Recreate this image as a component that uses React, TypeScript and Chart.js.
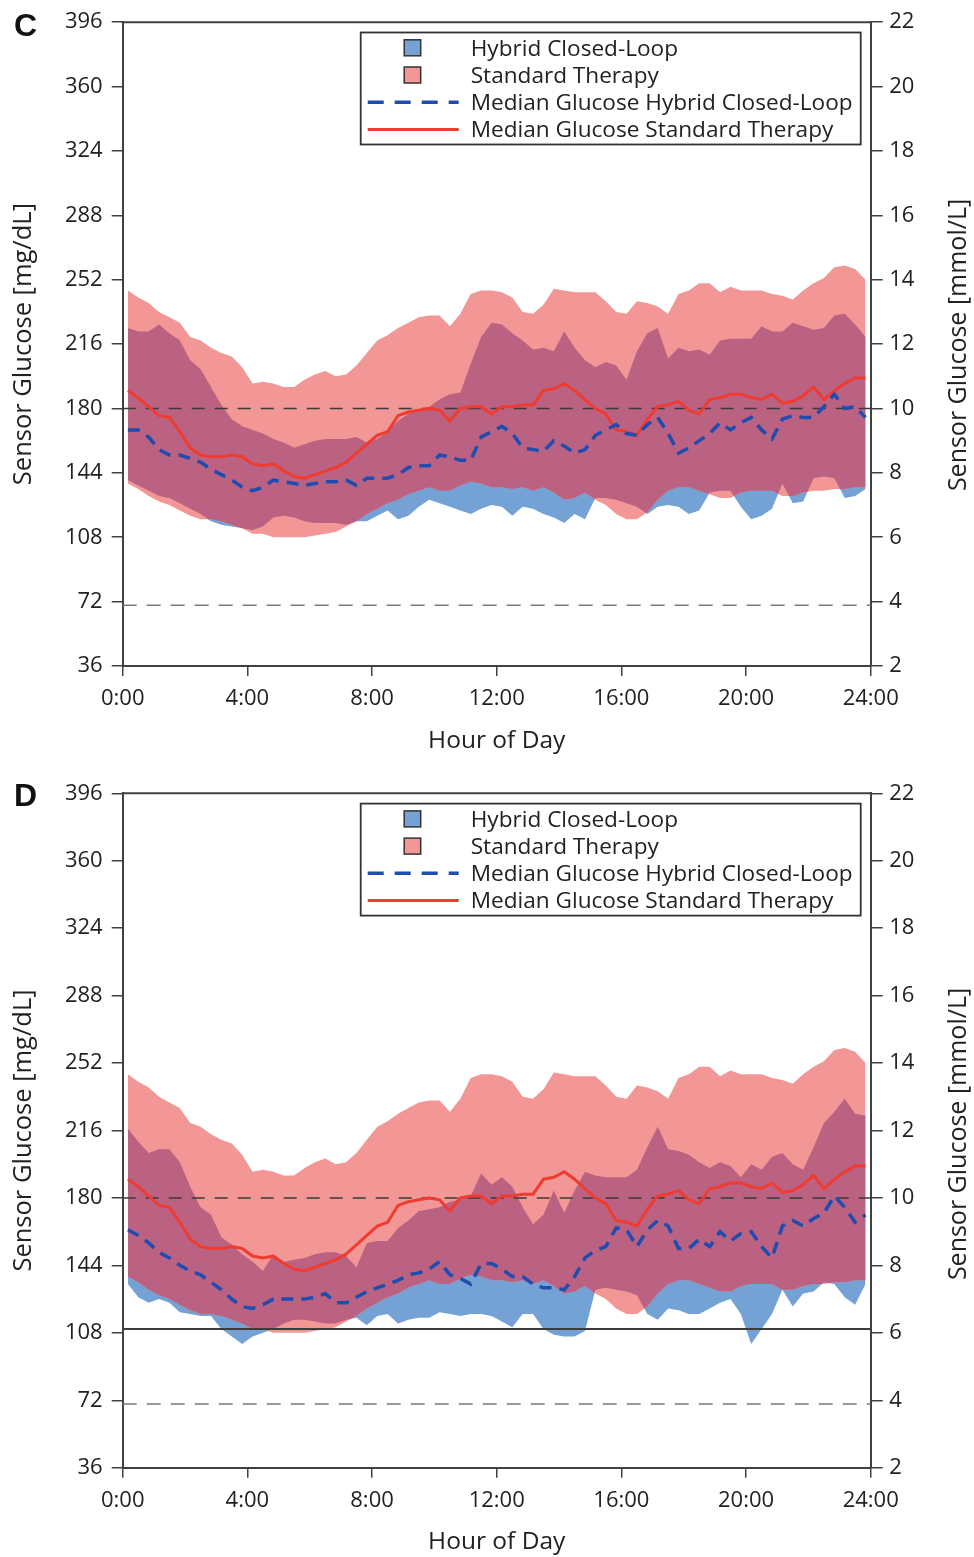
import React, { useEffect, useRef } from "react";
import { Chart, registerables } from "chart.js";

Chart.register(...registerables);
Chart.defaults.font.family = '"Open Sans", "Noto Sans", sans-serif';

// ---------- data ----------
const timeBins = [
  "0:10","0:30","0:50","1:10","1:30","1:50","2:10","2:30","2:50","3:10","3:30","3:50",
  "4:10","4:30","4:50","5:10","5:30","5:50","6:10","6:30","6:50","7:10","7:30","7:50",
  "8:10","8:30","8:50","9:10","9:30","9:50","10:10","10:30","10:50","11:10","11:30","11:50",
  "12:10","12:30","12:50","13:10","13:30","13:50","14:10","14:30","14:50","15:10","15:30","15:50",
  "16:10","16:30","16:50","17:10","17:30","17:50","18:10","18:30","18:50","19:10","19:30","19:50",
  "20:10","20:30","20:50","21:10","21:30","21:50","22:10","22:30","22:50","23:10","23:30","23:50",
];
const hours = timeBins.map((t) => {
  const [h, m] = t.split(":").map(Number);
  return h + m / 60;
});

const mgTicks = [36, 72, 108, 144, 180, 216, 252, 288, 324, 360, 396];
const mmolTicks = [2, 4, 6, 8, 10, 12, 14, 16, 18, 20, 22];
const hourTicks = [0, 4, 8, 12, 16, 20, 24];
const hourLabels = ["0:00", "4:00", "8:00", "12:00", "16:00", "20:00", "24:00"];

const legendLabels = [
  "Hybrid Closed-Loop",
  "Standard Therapy",
  "Median Glucose Hybrid Closed-Loop",
  "Median Glucose Standard Therapy",
];

// Standard therapy (same in both panels)
const stHigh = [246,242,239,234,231,228,220,218,214,211,209,203,194,195,194,192,192,196,199,201,198,199,204,211,218,221,225,228,231,232,232,226,233,244,246,246,245,242,234,233,238,247,246,245,245,245,240,234,233,240,239,237,233,244,246,250,250,245,248,246,246,246,244,243,241,246,250,253,259,260,258,252];
const stLow = [138,135,131,128,126,123,120,118,118,117,115,113,110,110,108,108,108,108,109,110,111,114,117,121,124,127,129,132,134,136,134,134,137,139,138,136,136,135,136,134,136,133,129,130,133,129,126,121,118,118,122,129,134,136,136,134,132,130,130,133,134,134,134,131,131,133,134,134,135,135,136,136];
const stMedian = [190,186,181,176,175,167,158,154,153,153,154,153,149,148,149,145,142,141,143,145,147,150,155,160,165,167,176,178,179,180,179,173,180,181,181,177,181,181,182,182,190,191,194,190,185,180,177,168,167,165,174,181,182,184,179,177,185,186,188,188,186,185,188,183,184,187,192,185,190,194,197,197];

// Hybrid closed-loop, panel C
const hclHighC = [225,223,223,227,222,218,207,202,192,182,174,170,168,166,163,161,158,160,162,163,163,163,164,161,163,167,173,177,179,181,185,188,189,205,220,228,227,222,218,213,214,212,223,214,207,203,206,204,196,212,222,225,208,214,212,213,210,218,219,219,219,226,223,223,228,226,224,225,232,233,227,220];
const hclLowC = [140,137,134,131,130,127,124,121,117,115,114,113,112,114,119,120,119,117,116,116,116,115,117,117,120,123,118,120,125,129,127,125,123,121,124,126,125,120,125,124,121,119,116,121,118,130,130,129,127,125,121,125,126,125,121,123,133,134,134,125,118,120,124,138,127,128,141,142,141,130,131,135];
const hclMedianC = [168,168,164,157,154,154,152,150,146,143,140,136,134,136,140,139,138,137,138,139,139,140,137,141,141,141,143,147,148,148,154,153,151,151,164,167,170,166,158,157,156,162,159,155,157,165,168,171,166,165,171,175,166,155,158,162,166,172,168,172,175,168,163,174,176,175,175,181,188,180,181,175];

// Hybrid closed-loop, panel D
const hclHighD = [217,210,204,206,206,199,186,175,171,159,155,150,146,141,150,146,147,148,150,151,151,149,143,156,157,157,164,168,173,174,175,178,179,181,193,187,191,186,175,166,171,184,172,184,194,192,191,191,191,195,207,218,206,205,203,199,196,199,197,191,198,195,202,204,198,195,207,220,226,233,225,224];
const hclLowD = [134,127,124,126,124,119,118,117,117,110,106,102,106,108,110,113,115,115,114,113,113,115,116,112,117,118,113,115,116,116,119,118,117,118,118,117,114,111,118,118,110,107,106,106,109,131,132,131,130,128,118,115,121,120,118,118,121,124,126,118,102,110,118,131,122,129,130,135,134,127,123,134];
const hclMedianD = [163,160,156,151,148,144,141,139,135,131,126,122,121,123,126,126,126,126,127,129,124,124,127,130,132,134,136,139,140,142,146,139,137,134,145,145,142,138,138,134,132,132,131,138,148,152,154,164,163,154,163,168,165,153,153,158,154,162,157,161,162,154,148,165,168,165,169,172,181,175,167,171];

const refValuesDashed = [180, 70];
const refValuesSolidD = [110];

// ---------- styles ----------
const PINK = "#F29696";
const BLUE = "#74A2D4";
const PURPLE = "#BB6283";
const RED = "#EF3B30";
const NAVY = "#1F4DAF";
const AXIS = "#404040";
const TEXT = "#222222";
const WIDTH = 974;
const PLOT_LEFT = 122.7;
const PLOT_RIGHT = 870.7;

type RefLine = { value: number; color: string; dash: number[]; width: number };

type PanelProps = {
  letter: string;
  letterY: number;
  height: number;
  plotTop: number;
  plotBottom: number;
  rightTitleY: number;
  hclLow: number[];
  hclHigh: number[];
  hclMedian: number[];
  refLines: RefLine[];
};

function Panel(props: PanelProps) {
  const ref = useRef<HTMLCanvasElement>(null);

  useEffect(() => {
    const canvas = ref.current!;
    const pts = (arr: number[]) => hours.map((h, k) => ({ x: h, y: arr[k] }));
    const hidden = {
      borderColor: "rgba(0,0,0,0)",
      borderWidth: 0,
      pointRadius: 0,
    };

    const decor = {
      id: "panelDecor",
      afterDatasetDraw(chart: any, args: any) {
        if (args.index !== 3) return;
        const ctx = chart.ctx as CanvasRenderingContext2D;
        const a = chart.chartArea;
        const get = (i: number) =>
          chart.getDatasetMeta(i).data.map((p: any) => ({ x: p.x, y: p.y }));
        const hl = get(0), hh = get(1), sl = get(2), sh = get(3);
        const poly = (hi: any[], lo: any[]) => {
          ctx.beginPath();
          hi.forEach((p, k) => (k ? ctx.lineTo(p.x, p.y) : ctx.moveTo(p.x, p.y)));
          for (let k = lo.length - 1; k >= 0; k--) ctx.lineTo(lo[k].x, lo[k].y);
          ctx.closePath();
        };
        ctx.save();
        ctx.beginPath();
        ctx.rect(a.left, a.top, a.right - a.left, a.bottom - a.top);
        ctx.clip();
        poly(hh, hl);
        ctx.clip();
        poly(sh, sl);
        ctx.fillStyle = PURPLE;
        ctx.fill();
        ctx.restore();

        // reference lines
        const ys = chart.scales.y;
        ctx.save();
        props.refLines.forEach((r) => {
          const y = ys.getPixelForValue(r.value);
          ctx.beginPath();
          ctx.setLineDash(r.dash);
          ctx.strokeStyle = r.color;
          ctx.lineWidth = r.width;
          ctx.moveTo(a.left, y);
          ctx.lineTo(a.right, y);
          ctx.stroke();
        });
        ctx.restore();
      },
      afterDraw(chart: any) {
        const ctx = chart.ctx as CanvasRenderingContext2D;
        const a = chart.chartArea;
        ctx.save();
        // top frame line
        ctx.strokeStyle = AXIS;
        ctx.lineWidth = 2;
        ctx.beginPath();
        ctx.moveTo(a.left - 1, a.top);
        ctx.lineTo(a.right + 1, a.top);
        ctx.stroke();

        // legend
        const bw = 500, bh = 112;
        const bx = a.right - 10 - bw;
        const by = a.top + 10.3;
        ctx.fillStyle = "#ffffff";
        ctx.fillRect(bx, by, bw, bh);
        ctx.strokeStyle = "#333333";
        ctx.lineWidth = 1.8;
        ctx.strokeRect(bx, by, bw, bh);
        ctx.font = '22.6px "Open Sans"';
        ctx.textAlign = "left";
        ctx.textBaseline = "alphabetic";
        legendLabels.forEach((label, k) => {
          const cy = by + 15.3 + k * 27.2;
          if (k < 2) {
            ctx.fillStyle = k === 0 ? BLUE : PINK;
            ctx.fillRect(bx + 43.5, cy - 8, 16.5, 16);
            ctx.strokeStyle = "#333333";
            ctx.lineWidth = 1.5;
            ctx.strokeRect(bx + 43.5, cy - 8, 16.5, 16);
          } else {
            ctx.beginPath();
            ctx.strokeStyle = k === 2 ? NAVY : RED;
            ctx.lineWidth = k === 2 ? 3.5 : 3;
            ctx.setLineDash(k === 2 ? [16, 11] : []);
            ctx.moveTo(bx + 7, cy);
            ctx.lineTo(bx + 98, cy);
            ctx.stroke();
            ctx.setLineDash([]);
          }
          ctx.fillStyle = TEXT;
          ctx.fillText(label, bx + 110, cy + 7.8);
        });

        // right axis title
        ctx.save();
        ctx.translate(959, props.rightTitleY);
        ctx.rotate(-Math.PI / 2);
        ctx.font = '25px "Open Sans"';
        ctx.textAlign = "center";
        ctx.textBaseline = "middle";
        ctx.fillStyle = TEXT;
        ctx.fillText("Sensor Glucose [mmol/L]", 0, 0);
        ctx.restore();

        // panel letter
        ctx.font = 'bold 32px "Liberation Sans"';
        ctx.fillStyle = "#111111";
        ctx.textAlign = "left";
        ctx.textBaseline = "alphabetic";
        ctx.fillText(props.letter, 14, props.letterY);
        ctx.restore();
      },
    };

    const tickFont = { size: 22 };
    const chart = new Chart(canvas, {
      type: "line",
      data: {
        datasets: [
          { label: "HCL lower", data: pts(props.hclLow), ...hidden, fill: false, order: 6 },
          { label: legendLabels[0], data: pts(props.hclHigh), ...hidden, fill: "-1", backgroundColor: BLUE, order: 5 },
          { label: "ST lower", data: pts(stLow), ...hidden, fill: false, order: 4 },
          { label: legendLabels[1], data: pts(stHigh), ...hidden, fill: "-1", backgroundColor: PINK, order: 3 },
          { label: legendLabels[3], data: pts(stMedian), borderColor: RED, borderWidth: 3, pointRadius: 0, fill: false, order: 2 },
          { label: legendLabels[2], data: pts(props.hclMedian), borderColor: NAVY, borderWidth: 3.5, borderDash: [12, 8], pointRadius: 0, fill: false, order: 1 },
        ] as any,
      },
      options: {
        responsive: false,
        animation: false,
        events: [],
        layout: { padding: { top: props.plotTop, left: 0, right: 0, bottom: 0 } },
        elements: { line: { tension: 0 } },
        plugins: { legend: { display: false }, tooltip: { enabled: false } },
        scales: {
          x: {
            type: "linear",
            position: "bottom",
            min: 0,
            max: 24,
            afterBuildTicks: (s: any) => {
              s.ticks = hourTicks.map((v) => ({ value: v }));
            },
            ticks: {
              callback: (v: any) => hourLabels[hourTicks.indexOf(Number(v))] ?? "",
              padding: 10,
              color: TEXT,
              font: tickFont,
              maxRotation: 0,
              autoSkip: false,
            },
            grid: { drawOnChartArea: false, drawTicks: true, tickLength: 10, color: AXIS, lineWidth: 1.5 },
            border: { display: true, color: AXIS, width: 2 },
            title: { display: true, text: "Hour of Day", color: TEXT, font: { size: 24.5 }, padding: { top: 0, bottom: 0 } },
            afterFit: (s: any) => {
              s.height = props.height - props.plotBottom;
            },
          },
          y: {
            type: "linear",
            position: "left",
            min: 36,
            max: 396,
            afterBuildTicks: (s: any) => {
              s.ticks = mgTicks.map((v) => ({ value: v }));
            },
            ticks: { padding: 9, color: TEXT, font: tickFont },
            grid: { drawOnChartArea: false, drawTicks: true, tickLength: 11, color: AXIS, lineWidth: 1.5 },
            border: { display: true, color: AXIS, width: 2 },
            title: { display: true, text: "Sensor Glucose [mg/dL]", color: TEXT, font: { size: 25.5 }, padding: { top: 8.5, bottom: 0 } },
            afterFit: (s: any) => {
              s.width = PLOT_LEFT;
            },
          },
          y2: {
            type: "linear",
            position: "right",
            min: 2,
            max: 22,
            afterBuildTicks: (s: any) => {
              s.ticks = mmolTicks.map((v) => ({ value: v }));
            },
            ticks: { padding: 6.5, color: TEXT, font: tickFont },
            grid: { drawOnChartArea: false, drawTicks: true, tickLength: 12, color: AXIS, lineWidth: 1.5 },
            border: { display: true, color: AXIS, width: 2 },
            afterFit: (s: any) => {
              s.width = WIDTH - PLOT_RIGHT;
            },
          },
        },
      } as any,
      plugins: [decor],
    });
    return () => chart.destroy();
  }, []);

  return (
    <canvas
      ref={ref}
      width={WIDTH}
      height={props.height}
      style={{ display: "block", width: WIDTH, height: props.height }}
    />
  );
}

const dashedRefs = (extraSolid: number[]): RefLine[] => [
  { value: refValuesDashed[0], color: "#3a3a3a", dash: [13, 10], width: 1.6 },
  { value: refValuesDashed[1], color: "#7a7a7a", dash: [14, 10], width: 1.6 },
  ...extraSolid.map((v) => ({ value: v, color: "#3c3c3c", dash: [], width: 2 })),
];

export default function App() {
  return (
    <div style={{ position: "absolute", left: 0, top: 0, width: WIDTH, height: 1557, background: "#ffffff" }}>
      <Panel
        letter="C"
        letterY={36}
        height={756}
        plotTop={20}
        plotBottom={666}
        rightTitleY={345}
        hclLow={hclLowC}
        hclHigh={hclHighC}
        hclMedian={hclMedianC}
        refLines={dashedRefs([])}
      />
      <Panel
        letter="D"
        letterY={50}
        height={801}
        plotTop={37.3}
        plotBottom={711.7}
        rightTitleY={378}
        hclLow={hclLowD}
        hclHigh={hclHighD}
        hclMedian={hclMedianD}
        refLines={dashedRefs(refValuesSolidD)}
      />
    </div>
  );
}
